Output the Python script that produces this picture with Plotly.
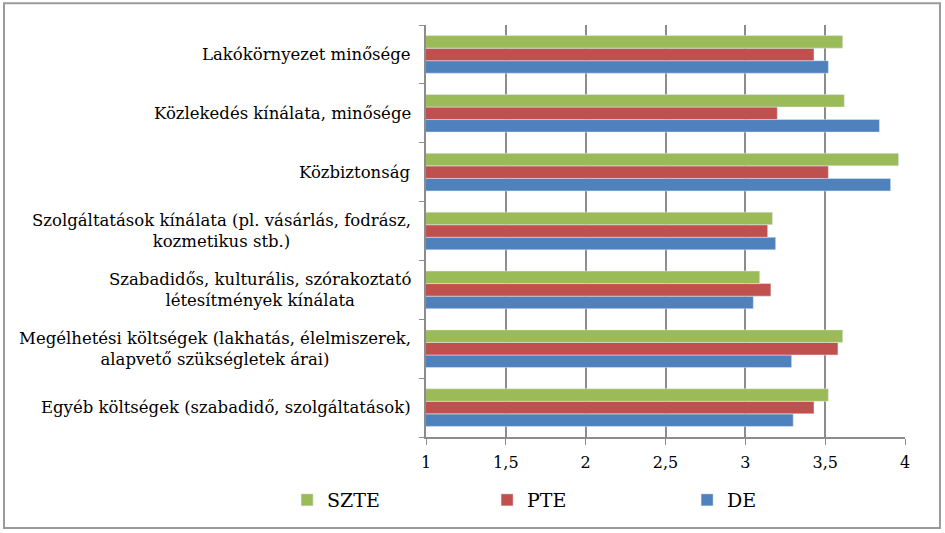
import plotly.graph_objects as go

categories = [
    "Egyéb költségek (szabadidő, szolgáltatások)",
    "Megélhetési költségek (lakhatás, élelmiszerek,<br>alapvető szükségletek árai)",
    "Szabadidős, kulturális, szórakoztató<br>létesítmények kínálata",
    "Szolgáltatások kínálata (pl. vásárlás, fodrász,<br>kozmetikus stb.)",
    "Közbiztonság",
    "Közlekedés kínálata, minősége",
    "Lakókörnyezet minősége",
]
de_values = [3.30, 3.29, 3.05, 3.19, 3.91, 3.84, 3.52]
pte_values = [3.43, 3.58, 3.16, 3.14, 3.52, 3.20, 3.43]
szte_values = [3.52, 3.61, 3.09, 3.17, 3.96, 3.62, 3.61]
x_ticks = [1, 1.5, 2, 2.5, 3, 3.5, 4]
x_tick_labels = ["1", "1,5", "2", "2,5", "3", "3,5", "4"]

font_family = "DejaVu Serif"

fig = go.Figure()
fig.add_trace(go.Bar(y=categories, x=de_values, name="DE", orientation="h",
                     marker=dict(color="#4F81BD")))
fig.add_trace(go.Bar(y=categories, x=pte_values, name="PTE", orientation="h",
                     marker=dict(color="#C0504D")))
fig.add_trace(go.Bar(y=categories, x=szte_values, name="SZTE", orientation="h",
                     marker=dict(color="#9BBB59")))

for c in categories:
    fig.add_annotation(x=0, xref="paper", y=c, yref="y", text=c, showarrow=False,
                       xanchor="right", align="center", xshift=-13,
                       font=dict(family=font_family, size=16.5, color="#000"))

fig.add_shape(type="rect", xref="paper", yref="paper",
              x0=-0.881, x1=1.073, y0=-0.221, y1=1.053,
              line=dict(color="#9a9a9a", width=2))

fig.update_layout(
    width=945, height=533,
    margin=dict(l=426, r=40, t=25, b=96),
    paper_bgcolor="white", plot_bgcolor="white",
    barmode="group", bargap=0.36, bargroupgap=0,
    font=dict(family=font_family, size=16, color="#000"),
    showlegend=True,
    legend=dict(orientation="h", traceorder="reversed", x=-0.29, xanchor="left",
                y=-0.153, yanchor="middle", entrywidth=155, entrywidthmode="pixels",
                font=dict(family=font_family, size=19), itemwidth=30),
    xaxis=dict(range=[1, 4], tickvals=x_ticks, ticktext=x_tick_labels,
               showgrid=True, gridcolor="#8c8c8c", gridwidth=1.5,
               showline=True, linecolor="#8c8c8c", linewidth=1.5,
               ticks="outside", ticklen=6, tickcolor="#8c8c8c", ticklabelstandoff=4,
               tickfont=dict(family=font_family, size=16), zeroline=False),
    yaxis=dict(showticklabels=False, showline=True, linecolor="#8c8c8c", linewidth=1.5,
               ticks="outside", tickson="boundaries", ticklen=5, tickcolor="#8c8c8c",
               showgrid=False),
)

fig.write_html("out.html", config={"displayModeBar": False},
               post_script="document.body.style.margin='0';")
